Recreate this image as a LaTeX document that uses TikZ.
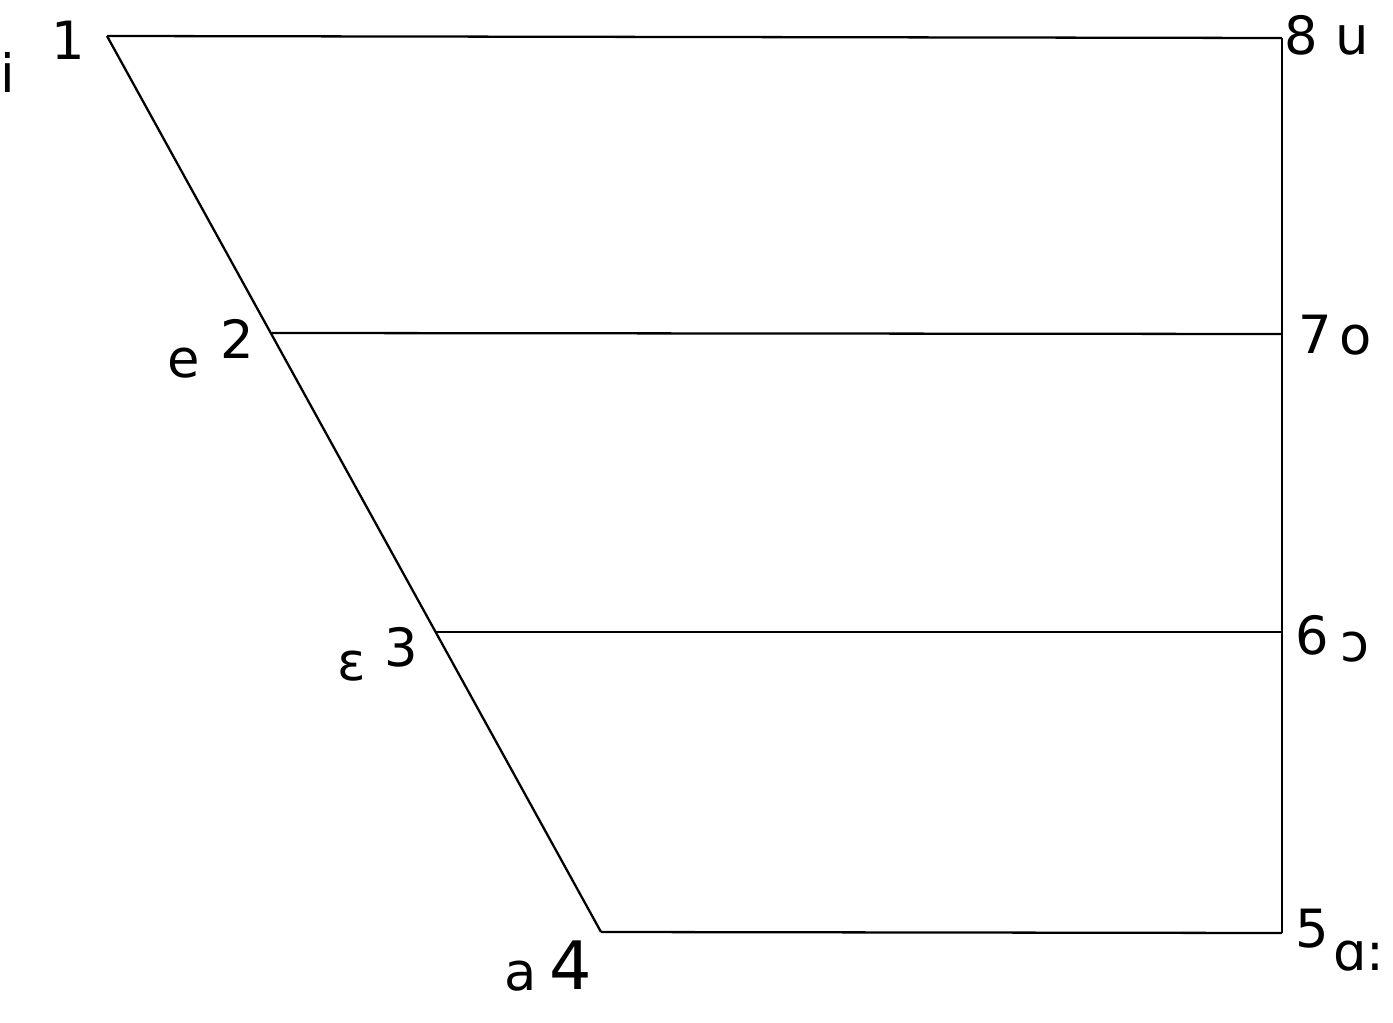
\documentclass[tikz,border=0pt]{standalone}
\usepackage{fontspec}
\setmainfont{DejaVu Sans}
\usepackage{tikz}
\usetikzlibrary{positioning}

\tikzset{
  lab/.style={inner sep=0pt,font=\fontsize{30}{36}\selectfont},
  edge/.style={line width=1.3pt,black}
}

\begin{document}
\begin{tikzpicture}[x=0.02cm,y=-0.02cm]
  \useasboundingbox (0,0) rectangle (1393,1023);
  % corners
  \coordinate (v1) at (107,36);
  \coordinate (v2) at (272,333);
  \coordinate (v3) at (436,632);
  \coordinate (v4) at (601,932);
  \coordinate (v5) at (1282,933);
  \coordinate (v6) at (1282,632);
  \coordinate (v7) at (1282,334);
  \coordinate (v8) at (1282,38);
  % frame
  \draw[edge] (v1) -- (v8);
  \draw[edge] (v2) -- (v7);
  \draw[edge] (v3) -- (v6);
  \draw[edge] (v4) -- (v5);
  \draw[edge] (v1) -- (v4);
  \draw[edge] (v8) -- (v5);
  % numbers
  \node[lab] (n1) at (68,40) {1};
  \node[lab] (n2) at (237,339) {2};
  \node[lab] (n3) at (401,647) {3};
  \node[lab,font=\fontsize{38}{44}\selectfont] (n4) at (571,965) {4};
  \node[lab] (n5) at (1312,929) {5};
  \node[lab] (n6) at (1312,635) {6};
  \node[lab] (n7) at (1315,334) {7};
  \node[lab] (n8) at (1301,35) {8};
  % vowels
  \node[lab] (s1) at (8,72) {i};
  \node[lab] (s2) at (184,363) {e};
  \node[lab] (s3) at (352,666) {ɛ};
  \node[lab] (s4) at (521,976) {a};
  \node[lab,anchor=west] (s5) at (1333,956) {ɑ:};
  \node[lab] (s6) at (1355,647) {ɔ};
  \node[lab] (s7) at (1356,340) {o};
  \node[lab] (s8) at (1352,40) {u};
\end{tikzpicture}
\end{document}
